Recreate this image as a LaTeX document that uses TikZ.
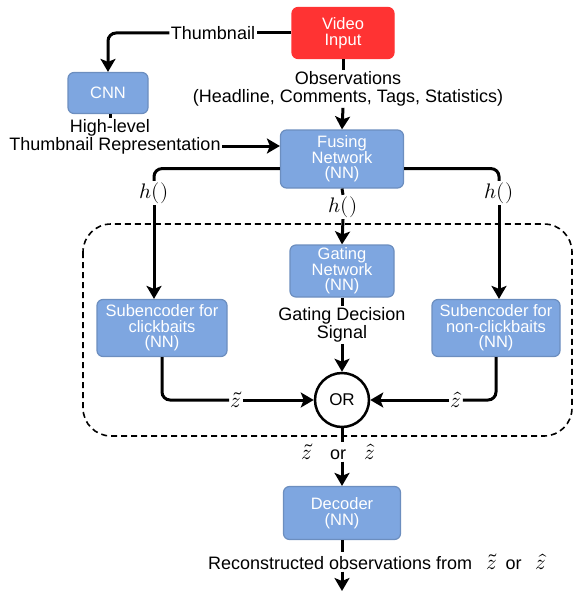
\documentclass[tikz,border=0pt]{standalone}
\usepackage{fontspec}
\usepackage{unicode-math}
\setmainfont{Liberation Sans}
\setmathfont{Latin Modern Math}
\usetikzlibrary{arrows.meta}
\definecolor{boxblue}{HTML}{7EA6E0}
\definecolor{boxline}{HTML}{6C8EBF}
\definecolor{vidred}{HTML}{FF3333}

\begin{document}
\begin{tikzpicture}[x=1pt,y=-1pt,
  nnbox/.style={draw=boxline,fill=boxblue,line width=1.2pt,rounded corners=6pt,text=white,align=center,inner sep=0pt,font=\fontsize{16.5}{15.5}\selectfont},
  lbl/.style={align=center,inner sep=1.5pt,font=\fontsize{18}{17.5}\selectfont},
  mlbl/.style={inner sep=1.5pt,font=\fontsize{21}{21}\selectfont},
  conn/.style={line width=3pt,rounded corners=8pt},
  arr/.style={conn,-{Stealth[length=13pt,width=15pt,inset=3pt]}}]
\useasboundingbox (0,0) rectangle (574,591);
\draw[line width=1.6pt,dash pattern=on 6pt off 4pt,rounded corners=28pt] (83,224) rectangle (572,436);
\node[nnbox,draw=vidred,fill=vidred,minimum width=102pt,minimum height=51pt] (video) at (343,33) {Video\\Input};
\node[nnbox,minimum width=80pt,minimum height=41pt] (cnn) at (108,93) {CNN};
\node[nnbox,minimum width=123pt,minimum height=58pt] (fuse) at (342,159) {Fusing\\Network\\(NN)};
\node[nnbox,minimum width=104pt,minimum height=52pt] (gate) at (342,271) {Gating\\Network\\(NN)};
\node[nnbox,minimum width=130pt,minimum height=57pt] (subL) at (162,328) {Subencoder for\\clickbaits\\(NN)};
\node[nnbox,minimum width=128pt,minimum height=57pt] (subR) at (496,328) {Subencoder for\\non-clickbaits\\(NN)};
\node[draw,circle,line width=2.5pt,minimum size=54pt,inner sep=0pt,font=\fontsize{17}{17}\selectfont] (or) at (342,400) {OR};
\node[nnbox,minimum width=117pt,minimum height=53pt] (dec) at (342,513) {Decoder\\(NN)};

\node[lbl] (thumb) at (213,33) {Thumbnail};
\node[lbl] (obs) at (348,89) {Observations\\(Headline, Comments, Tags, Statistics)};
\node[lbl] (hlA) at (110,128) {High-level};
\node[lbl] (hlB) at (115,146) {Thumbnail Representation};
\node[mlbl] (hL) at (154,193) {$h()$};
\node[mlbl] (hR) at (499,193) {$h()$};
\node[mlbl] (hM) at (343,207) {$h()$};
\node[lbl] (gds) at (342,325) {Gating Decision\\Signal};
\node[mlbl] (zt) at (236,400) {$\tilde{z}$};
\node[mlbl] (zh) at (456,400) {$\hat{z}$};
\node[lbl] (zor) at (338,452) {\fontsize{21}{21}\selectfont$\tilde{z}$\fontsize{18}{18}\selectfont\quad or\quad\fontsize{21}{21}\selectfont$\hat{z}$};
\node[lbl] (rec) at (377,562) {Reconstructed observations from\hspace{14pt}\fontsize{21}{21}\selectfont$\tilde{z}$\fontsize{18}{18}\selectfont\hspace{9pt}or\hspace{14pt}\fontsize{21}{21}\selectfont$\hat{z}$};
\coordinate (out) at (342,591);

\draw[conn] (video.west) -- (thumb.east);
\draw[arr] (thumb.west) -| (cnn.north);
\draw[conn] (video.south) -- (video.south |- obs.north);
\draw[arr] (video.south |- obs.south) -- (fuse.north);
\draw[conn] (cnn.south -| hlA) -- (hlA.north);
\draw[arr] (hlB.east) -- (hlB.east -| fuse.west);
\draw[conn] ([yshift=20pt]fuse.south west) -| (hL.north);
\draw[arr] (hL.south) -- (hL.south |- subL.north);
\draw[conn] ([yshift=20pt]fuse.south east) -| (hR.north);
\draw[arr] (hR.south) -- (hR.south |- subR.north);
\draw[conn] (fuse.south) -- (hM.north);
\draw[arr] (hM.south) -- (gate.north);
\draw[conn] (gate.south) -- (gds.north);
\draw[arr] (gds.south) -- (or.north);
\draw[conn] (subL.south) |- (zt.west);
\draw[arr] (zt.east) -- (or.west);
\draw[conn] (subR.south) |- (zh.east);
\draw[arr] (zh.west) -- (or.east);
\draw[conn] (or.south) -- (or.south |- zor.north);
\draw[arr] (or.south |- zor.south) -- (dec.north);
\draw[conn] (dec.south) -- (dec.south |- rec.north);
\draw[arr] (dec.south |- rec.south) -- (out);
\end{tikzpicture}
\end{document}
